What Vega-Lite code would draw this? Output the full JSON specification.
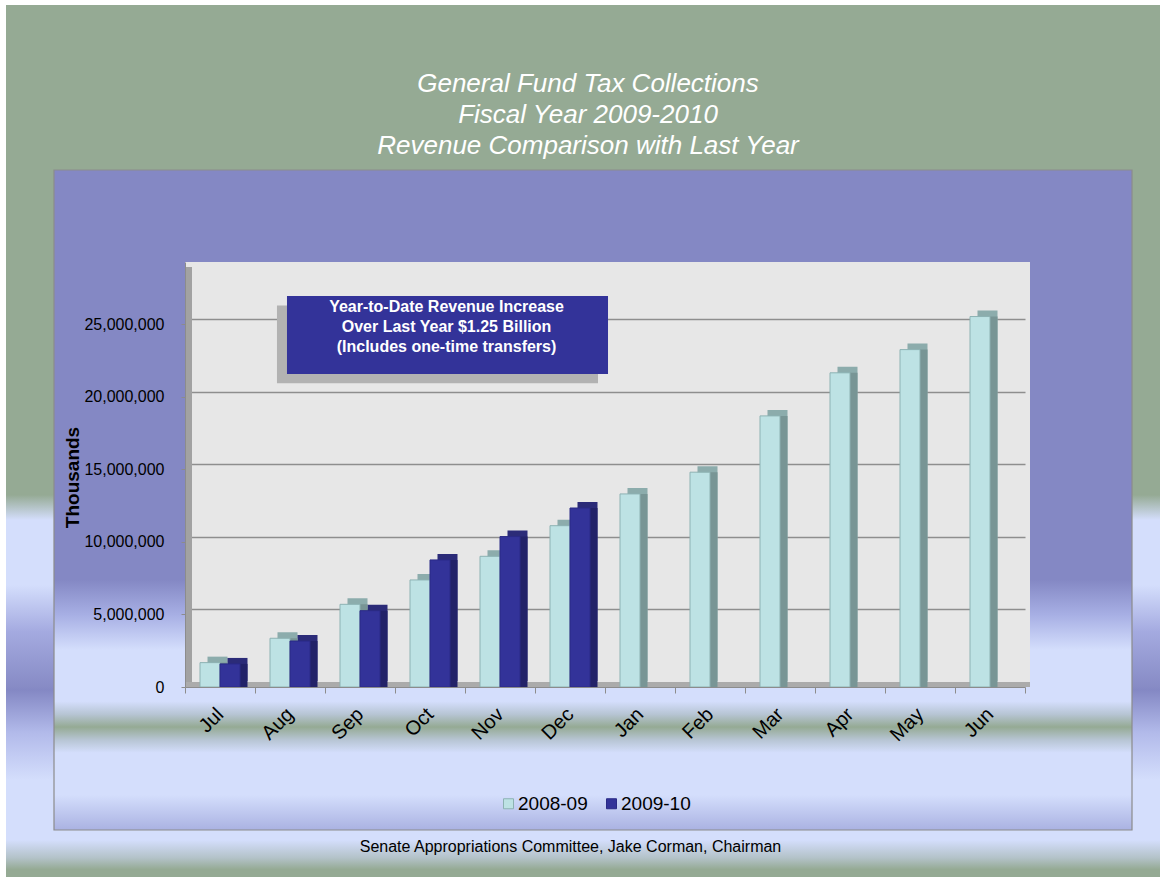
{
  "$schema": "https://vega.github.io/schema/vega-lite/v6.json",
  "width": 1154,
  "height": 872,
  "autosize": {"type": "none"},
  "padding": {"left": 6, "top": 5, "right": 5, "bottom": 0},
  "background": "white",
  "view": {"fill": "#E7E7E7", "stroke": null},
  "config": {"font": "Liberation Sans"},
  "title": {
    "text": ["General Fund Tax Collections", "Fiscal Year 2009-2010", "Revenue Comparison with Last Year"],
    "anchor": "middle", "frame": "group", "offset": -154, "baseline": "top",
    "fontSize": 26, "fontStyle": "italic", "fontWeight": "normal", "color": "white",
    "lineHeight": 31, "dx": 5
  },
  "data": {
    "values": [
      {"month": "Jul", "series": "2008-09", "value": 1680000},
      {"month": "Jul", "series": "2009-10", "value": 1590000},
      {"month": "Aug", "series": "2008-09", "value": 3360000},
      {"month": "Aug", "series": "2009-10", "value": 3170000},
      {"month": "Sep", "series": "2008-09", "value": 5700000},
      {"month": "Sep", "series": "2009-10", "value": 5260000},
      {"month": "Oct", "series": "2008-09", "value": 7380000},
      {"month": "Oct", "series": "2009-10", "value": 8760000},
      {"month": "Nov", "series": "2008-09", "value": 9010000},
      {"month": "Nov", "series": "2009-10", "value": 10370000},
      {"month": "Dec", "series": "2008-09", "value": 11120000},
      {"month": "Dec", "series": "2009-10", "value": 12340000},
      {"month": "Jan", "series": "2008-09", "value": 13310000},
      {"month": "Feb", "series": "2008-09", "value": 14810000},
      {"month": "Mar", "series": "2008-09", "value": 18690000},
      {"month": "Apr", "series": "2008-09", "value": 21660000},
      {"month": "May", "series": "2008-09", "value": 23260000},
      {"month": "Jun", "series": "2008-09", "value": 25540000}
    ]
  },
  "resolve": {"axis": {"x": "independent", "y": "independent"}, "scale": {"xOffset": "independent"}},
  "layer": [
    {
      "data": {"values": [{}]},
      "mark": {"type": "rect", "color": "#95AA94"},
      "encoding": {
        "x": {"datum": "Jul", "type": "nominal", "bandPosition": -2.5571, "axis": null,
              "scale": {"domain": ["Jul","Aug","Sep","Oct","Nov","Dec","Jan","Feb","Mar","Apr","May","Jun"], "range": [179, 1019], "paddingInner": 0, "paddingOuter": 0}},
        "x2": {"datum": "Jun", "bandPosition": 2.9286},
        "y": {"datum": 47017762, "type": "quantitative",
              "scale": {"domain": [0, 29300000], "range": [682, 257], "nice": false, "zero": false},
              "axis": {"orient": "left", "values": [5000000, 10000000, 15000000, 20000000, 25000000], "grid": true, "gridColor": "#8E8E8E", "gridWidth": 1.3, "labels": false, "ticks": false, "domain": false, "title": null, "tickOffset": -5, "zindex": 0}},
        "y2": {"datum": 29300000}
      }
    },
    {
      "data": {"values": [{}]},
      "mark": {"type": "rect", "color": {"gradient": "linear", "x1": 0, "y1": 0, "x2": 0, "y2": 1, "stops": [
        {"offset": 0, "color": "#95AA94"}, {"offset": 0.548, "color": "#95AA94"}, {"offset": 0.607, "color": "#D4DEFC"},
        {"offset": 0.76, "color": "#D4DEFC"}, {"offset": 0.87, "color": "#A4AAE0"}, {"offset": 1, "color": "#878BC5"}]}},
      "encoding": {
        "x": {"datum": "Jul", "type": "nominal", "bandPosition": -2.5571, "axis": null},
        "x2": {"datum": "Jul", "bandPosition": -1.8714},
        "y": {"datum": 29300000, "type": "quantitative", "axis": null},
        "y2": {"datum": 0}
      }
    },
    {
      "data": {"values": [{}]},
      "mark": {"type": "rect", "color": {"gradient": "linear", "x1": 0, "y1": 0, "x2": 0, "y2": 1, "stops": [
        {"offset": 0, "color": "#95AA94"}, {"offset": 0.548, "color": "#95AA94"}, {"offset": 0.607, "color": "#D4DEFC"},
        {"offset": 0.76, "color": "#D4DEFC"}, {"offset": 0.87, "color": "#A4AAE0"}, {"offset": 1, "color": "#878BC5"}]}},
      "encoding": {
        "x": {"datum": "Jun", "type": "nominal", "bandPosition": 2.5286, "axis": null},
        "x2": {"datum": "Jun", "bandPosition": 2.9286},
        "y": {"datum": 29300000, "type": "quantitative", "axis": null},
        "y2": {"datum": 0}
      }
    },
    {
      "data": {"values": [{}]},
      "mark": {"type": "rect", "color": {"gradient": "linear", "x1": 0, "y1": 0, "x2": 0, "y2": 1, "stops": [
        {"offset": 0, "color": "#878BC5"}, {"offset": 0.016, "color": "#8488C4"}, {"offset": 0.24, "color": "#B2BAEA"},
        {"offset": 0.49, "color": "#D4DEFC"}, {"offset": 0.805, "color": "#D4DEFC"}, {"offset": 0.9, "color": "#B3C2C8"},
        {"offset": 0.96, "color": "#95AA94"}, {"offset": 1, "color": "#95AA94"}]}},
      "encoding": {
        "x": {"datum": "Jul", "type": "nominal", "bandPosition": -2.5571, "axis": null},
        "x2": {"datum": "Jun", "bandPosition": 2.9286},
        "y": {"datum": 0, "type": "quantitative", "axis": null},
        "y2": {"datum": -13098790}
      }
    },
    {
      "data": {"values": [{}]},
      "mark": {"type": "rect", "color": "#8488C4"},
      "encoding": {
        "x": {"datum": "Jul", "type": "nominal", "bandPosition": -1.8714, "axis": null},
        "x2": {"datum": "Jun", "bandPosition": 2.5286},
        "y": {"datum": 35642497, "type": "quantitative", "axis": null},
        "y2": {"datum": 29300000}
      }
    },
    {
      "data": {"values": [{}]},
      "mark": {"type": "rect", "color": {"gradient": "linear", "x1": 0, "y1": 0, "x2": 0, "y2": 1, "stops": [
        {"offset": 0, "color": "#8488C4"}, {"offset": 0.748, "color": "#8488C4"}, {"offset": 0.83, "color": "#A7AFE4"},
        {"offset": 0.913, "color": "#D4DEFC"}, {"offset": 1, "color": "#D4DEFC"}]}},
      "encoding": {
        "x": {"datum": "Jul", "type": "nominal", "bandPosition": -1.8714, "axis": null},
        "x2": {"datum": "Jul", "bandPosition": 0},
        "y": {"datum": 29300000, "type": "quantitative", "axis": null},
        "y2": {"datum": 0}
      }
    },
    {
      "data": {"values": [{}]},
      "mark": {"type": "rect", "color": {"gradient": "linear", "x1": 0, "y1": 0, "x2": 0, "y2": 1, "stops": [
        {"offset": 0, "color": "#8488C4"}, {"offset": 0.748, "color": "#8488C4"}, {"offset": 0.83, "color": "#A7AFE4"},
        {"offset": 0.913, "color": "#D4DEFC"}, {"offset": 1, "color": "#D4DEFC"}]}},
      "encoding": {
        "x": {"datum": "Jun", "type": "nominal", "bandPosition": 1.0714, "axis": null},
        "x2": {"datum": "Jun", "bandPosition": 2.5286},
        "y": {"datum": 29300000, "type": "quantitative", "axis": null},
        "y2": {"datum": 0}
      }
    },
    {
      "data": {"values": [{}]},
      "mark": {"type": "rect", "color": {"gradient": "linear", "x1": 0, "y1": 0, "x2": 0, "y2": 1, "stops": [
        {"offset": 0, "color": "#D4DEFC"}, {"offset": 0.1, "color": "#D4DEFC"}, {"offset": 0.19, "color": "#B7C5D4"},
        {"offset": 0.28, "color": "#95AA94"}, {"offset": 0.37, "color": "#B7C5D4"}, {"offset": 0.46, "color": "#D4DEFC"},
        {"offset": 0.755, "color": "#D4DEFC"}, {"offset": 1, "color": "#AAB2E2"}]}},
      "encoding": {
        "x": {"datum": "Jul", "type": "nominal", "bandPosition": -1.8714, "axis": null},
        "x2": {"datum": "Jun", "bandPosition": 2.5286},
        "y": {"datum": 0, "type": "quantitative", "axis": null},
        "y2": {"datum": -9858563}
      }
    },
    {
      "data": {"values": [{}]},
      "mark": {"type": "rect", "fill": null, "fillOpacity": 0, "stroke": "#8C8C8C", "strokeWidth": 1.2},
      "encoding": {
        "x": {"datum": "Jul", "type": "nominal", "bandPosition": -1.8714, "axis": null},
        "x2": {"datum": "Jun", "bandPosition": 2.5286},
        "y": {"datum": 35642497, "type": "quantitative", "axis": null},
        "y2": {"datum": -9858563}
      }
    },
    {
      "data": {"values": [{}]},
      "mark": {"type": "rect", "color": "#A2A2A2"},
      "encoding": {
        "x": {"datum": "Jul", "type": "nominal", "bandPosition": 0, "axis": null},
        "x2": {"datum": "Jul", "bandPosition": 0.1},
        "y": {"datum": 28955220, "type": "quantitative", "axis": null},
        "y2": {"datum": 0}
      }
    },
    {
      "data": {"values": [{}]},
      "mark": {"type": "rect", "color": "#ABABAB"},
      "encoding": {
        "x": {"datum": "Jul", "type": "nominal", "bandPosition": 0, "axis": null},
        "x2": {"datum": "Jun", "bandPosition": 1.0714},
        "y": {"datum": 344705, "type": "quantitative", "axis": null},
        "y2": {"datum": 0}
      }
    },
    {
      "mark": {"type": "bar", "yOffset": -6, "y2Offset": -6},
      "encoding": {
        "x": {"field": "month", "type": "nominal", "axis": null},
        "xOffset": {"field": "series", "type": "nominal", "scale": {"paddingOuter": 0.75, "paddingInner": 0, "align": 0.75}},
        "y": {"field": "value", "type": "quantitative", "axis": null},
        "fill": {"condition": {"test": "datum.series === '2008-09'", "value": "#8CACAC"}, "value": "#2B2B78"}
      }
    },
    {
      "mark": {"type": "bar", "yOffset": 0, "y2Offset": -6},
      "encoding": {
        "x": {"field": "month", "type": "nominal", "axis": null},
        "xOffset": {"field": "series", "type": "nominal", "scale": {"paddingOuter": 0.75, "paddingInner": 0, "align": 0.75}},
        "y": {"field": "value", "type": "quantitative", "axis": null},
        "fill": {"condition": {"test": "datum.series === '2008-09'", "value": "#789595"}, "value": "#222268"}
      }
    },
    {
      "mark": {"type": "bar", "strokeWidth": 1},
      "encoding": {
        "x": {"field": "month", "type": "nominal",
              "axis": {"orient": "bottom", "offset": -190, "zindex": 1, "domain": true, "domainColor": "#8C8C8C", "ticks": true, "tickBand": "extent", "tickSize": 6, "tickColor": "#8C8C8C",
                       "labelAngle": -45, "labelAlign": "right", "labelBaseline": "middle", "labelPadding": 18, "labelFontSize": 20, "labelColor": "black", "labelOverlap": false,
                       "title": "Senate Appropriations Committee, Jake Corman, Chairman", "titleFontSize": 16, "titleFontWeight": "normal", "titleColor": "black", "titleX": 564, "titleY": 159, "titleBaseline": "middle", "titleAlign": "center"}},
        "xOffset": {"field": "series", "type": "nominal", "scale": {"paddingOuter": 0.75, "paddingInner": 0, "align": 0.5}},
        "y": {"field": "value", "type": "quantitative",
              "axis": {"orient": "left", "offset": -179, "zindex": 1, "values": [0, 5000000, 10000000, 15000000, 20000000, 25000000], "format": ",d", "grid": false, "domain": true, "domainColor": "#8C8C8C", "ticks": true, "tickSize": 4, "tickColor": "#8C8C8C",
                       "labelFontSize": 16, "labelColor": "black", "labelPadding": 17,
                       "title": "Thousands", "titleFontSize": 19, "titleFontWeight": "bold", "titleColor": "black", "titleX": -113, "titleY": 472, "titleAngle": -90, "titleBaseline": "middle", "titleAlign": "center"}},
        "fill": {"field": "series", "type": "nominal",
                 "scale": {"domain": ["2008-09", "2009-10"], "range": ["#BDE2E4", "#333399"]},
                 "legend": {"orient": "none", "legendX": 493, "legendY": 789, "direction": "horizontal", "title": null, "symbolType": "square", "symbolSize": 100, "symbolStrokeWidth": 1,
                            "labelFontSize": 19, "labelColor": "black", "labelOffset": 0, "columnPadding": 14, "padding": 0}},
        "stroke": {"field": "series", "type": "nominal",
                   "scale": {"domain": ["2008-09", "2009-10"], "range": ["#8DB2B3", "#2A2A86"]}}
      }
    },
    {
      "data": {"values": [{}]},
      "mark": {"type": "rect", "color": "#B2B2B2"},
      "encoding": {
        "x": {"datum": "Aug", "type": "nominal", "bandPosition": 0.314, "axis": null},
        "x2": {"datum": "Dec", "bandPosition": 0.9},
        "y": {"datum": 26301000, "type": "quantitative", "axis": null},
        "y2": {"datum": 20937000}
      }
    },
    {
      "data": {"values": [{}]},
      "mark": {"type": "rect", "color": "#333399"},
      "encoding": {
        "x": {"datum": "Aug", "type": "nominal", "bandPosition": 0.457, "axis": null},
        "x2": {"datum": "Jan", "bandPosition": 0.043},
        "y": {"datum": 26956000, "type": "quantitative", "axis": null},
        "y2": {"datum": 21579000}
      }
    },
    {
      "data": {"values": [{}]},
      "mark": {"type": "text", "color": "white", "fontSize": 16, "fontWeight": "bold", "align": "center", "baseline": "middle", "lineHeight": 20},
      "encoding": {
        "x": {"datum": "Oct", "type": "nominal", "bandPosition": 0.736, "axis": null},
        "y": {"datum": 26218000, "type": "quantitative", "axis": null},
        "text": {"value": ["Year-to-Date Revenue Increase", "Over Last Year $1.25 Billion", "(Includes one-time transfers)"]}
      }
    }
  ]
}
